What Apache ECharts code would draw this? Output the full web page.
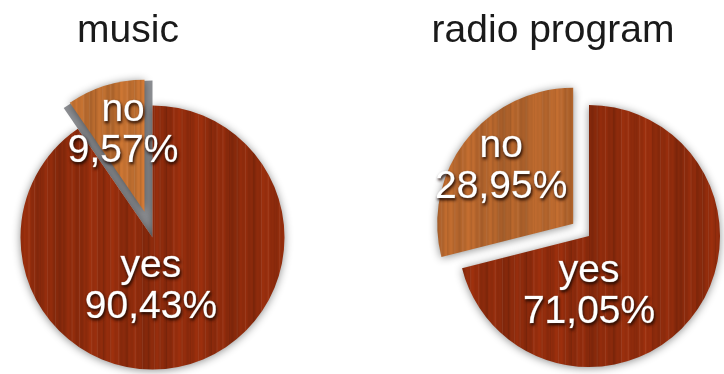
<!DOCTYPE html>
<html>
<head>
<meta charset="utf-8">
<script src="https://cdn.jsdelivr.net/npm/echarts@6/dist/echarts.min.js"></script>
<style>
html,body{margin:0;padding:0;background:#fff;}
#chart{width:724px;height:374px;}
</style>
</head>
<body>
<div id="chart"></div>
<script>
// ---- data ----
const titles = ['music', 'radio program'];
const categories = ['yes', 'no'];
const musicValues = [90.43, 9.57];
const radioValues = [71.05, 28.95];

// ---- wood textures ----
function woodCanvas(r, g, b, phase, amp) {
  const W = 360, H = 360;
  const c = document.createElement('canvas');
  c.width = W; c.height = H;
  const ctx = c.getContext('2d');
  for (let x = 0; x < W; x++) {
    const v = 0.45 * Math.sin(x * 0.29 + phase) + 0.3 * Math.sin(x * 0.071 + 2 * phase) +
              0.25 * Math.sin(x * 1.13 + 0.5);
    const k = 1 + amp * v;
    ctx.fillStyle = 'rgb(' + Math.round(r * k) + ',' + Math.round(g * k) + ',' + Math.round(b * k) + ')';
    ctx.fillRect(x, 0, 1, H);
  }
  ctx.globalAlpha = 0.08;
  for (let x = 0; x < W; x += 7) {
    ctx.fillStyle = (x % 3 === 0) ? '#000' : '#fff';
    ctx.fillRect(x + Math.sin(x) * 2, 0, 1, H);
  }
  ctx.globalAlpha = 1;
  return c;
}
const yesWood = woodCanvas(142, 43, 12, 0.3, 0.12);
const noWood1 = woodCanvas(190, 110, 48, 1.7, 0.12);
const noWood2 = woodCanvas(178, 100, 44, 2.9, 0.12);

function fmt(v) { return v.toFixed(2).replace('.', ','); }

const FONT = 'Liberation Sans, Arial, Helvetica, sans-serif';

const labelStyle = {
  show: true,
  position: 'inside',
  color: '#fff',
  fontFamily: FONT,
  fontSize: 39,
  lineHeight: 41,
  textBorderColor: 'rgba(255,255,255,0.6)',
  textBorderWidth: 0.6,
  textShadowColor: 'rgba(30,8,0,0.95)',
  textShadowBlur: 3,
  textShadowOffsetX: 1,
  textShadowOffsetY: 2,
  formatter: p => p.name + '\n' + fmt(p.value) + '%'
};

const sliceShadow = { shadowBlur: 8, shadowColor: 'rgba(0,0,0,0.45)', shadowOffsetY: 1 };

// show: which category this series paints ('all' or one name)
function buildData(values, noWood, show) {
  return categories.map((c, i) => {
    const visible = show === 'all' || show === c;
    return {
      name: c,
      value: values[i],
      selected: c === 'no',
      label: { show: visible },
      itemStyle: visible
        ? Object.assign({ color: { image: c === 'no' ? noWood : yesWood, repeat: 'repeat' } }, sliceShadow)
        : { color: 'rgba(0,0,0,0)', shadowBlur: 0 }
    };
  });
}

const musicShift = [[-22, -17], [-1, -15]];
const radioShift = [[-54, 14], [-16, -13]];

function shiftFn(table) {
  return function (p) {
    const s = table[p.dataIndex] || [0, 0];
    return { dx: s[0], dy: s[1] };
  };
}

const pieBase = {
  type: 'pie', silent: true,
  startAngle: 90, clockwise: true,
  labelLine: { show: false },
  emphasis: { disabled: true }
};

const chart = echarts.init(document.getElementById('chart'));
chart.setOption({
  backgroundColor: '#fff',
  animation: false,
  title: [
    { text: titles[0], left: 128, top: 12, textAlign: 'center', padding: 0,
      textStyle: { fontFamily: FONT, fontSize: 39, fontWeight: 'normal', color: '#1a1a1a' } },
    { text: titles[1], left: 553, top: 12, textAlign: 'center', padding: 0,
      textStyle: { fontFamily: FONT, fontSize: 39, fontWeight: 'normal', color: '#1a1a1a' } }
  ],
  series: [
    // gray side of the pulled-out "no" slice (music)
    Object.assign({}, pieBase, {
      z: 1, center: [152.5, 237.5], radius: 157,
      label: { show: false },
      data: categories.map((c, i) => ({
        name: c, value: musicValues[i],
        itemStyle: { color: c === 'no' ? '#8d8f93' : 'rgba(0,0,0,0)', borderWidth: 0 }
      }))
    }),
    Object.assign({}, pieBase, {
      z: 2, center: [152.5, 237.5], radius: 132,
      selectedMode: 'single', selectedOffset: 27,
      label: labelStyle,
      labelLayout: shiftFn(musicShift),
      data: buildData(musicValues, noWood1, 'all')
    }),
    // radio: "yes" slice
    Object.assign({}, pieBase, {
      z: 2, center: [589, 236], radius: 131,
      selectedMode: 'single', selectedOffset: 20,
      label: labelStyle,
      labelLayout: shiftFn(radioShift),
      data: buildData(radioValues, noWood2, 'yes')
    }),
    // radio: pulled-out "no" slice
    Object.assign({}, pieBase, {
      z: 3, center: [589, 236], radius: 136,
      selectedMode: 'single', selectedOffset: 20,
      label: labelStyle,
      labelLayout: shiftFn(radioShift),
      data: buildData(radioValues, noWood2, 'no')
    })
  ]
});
</script>
</body>
</html>
